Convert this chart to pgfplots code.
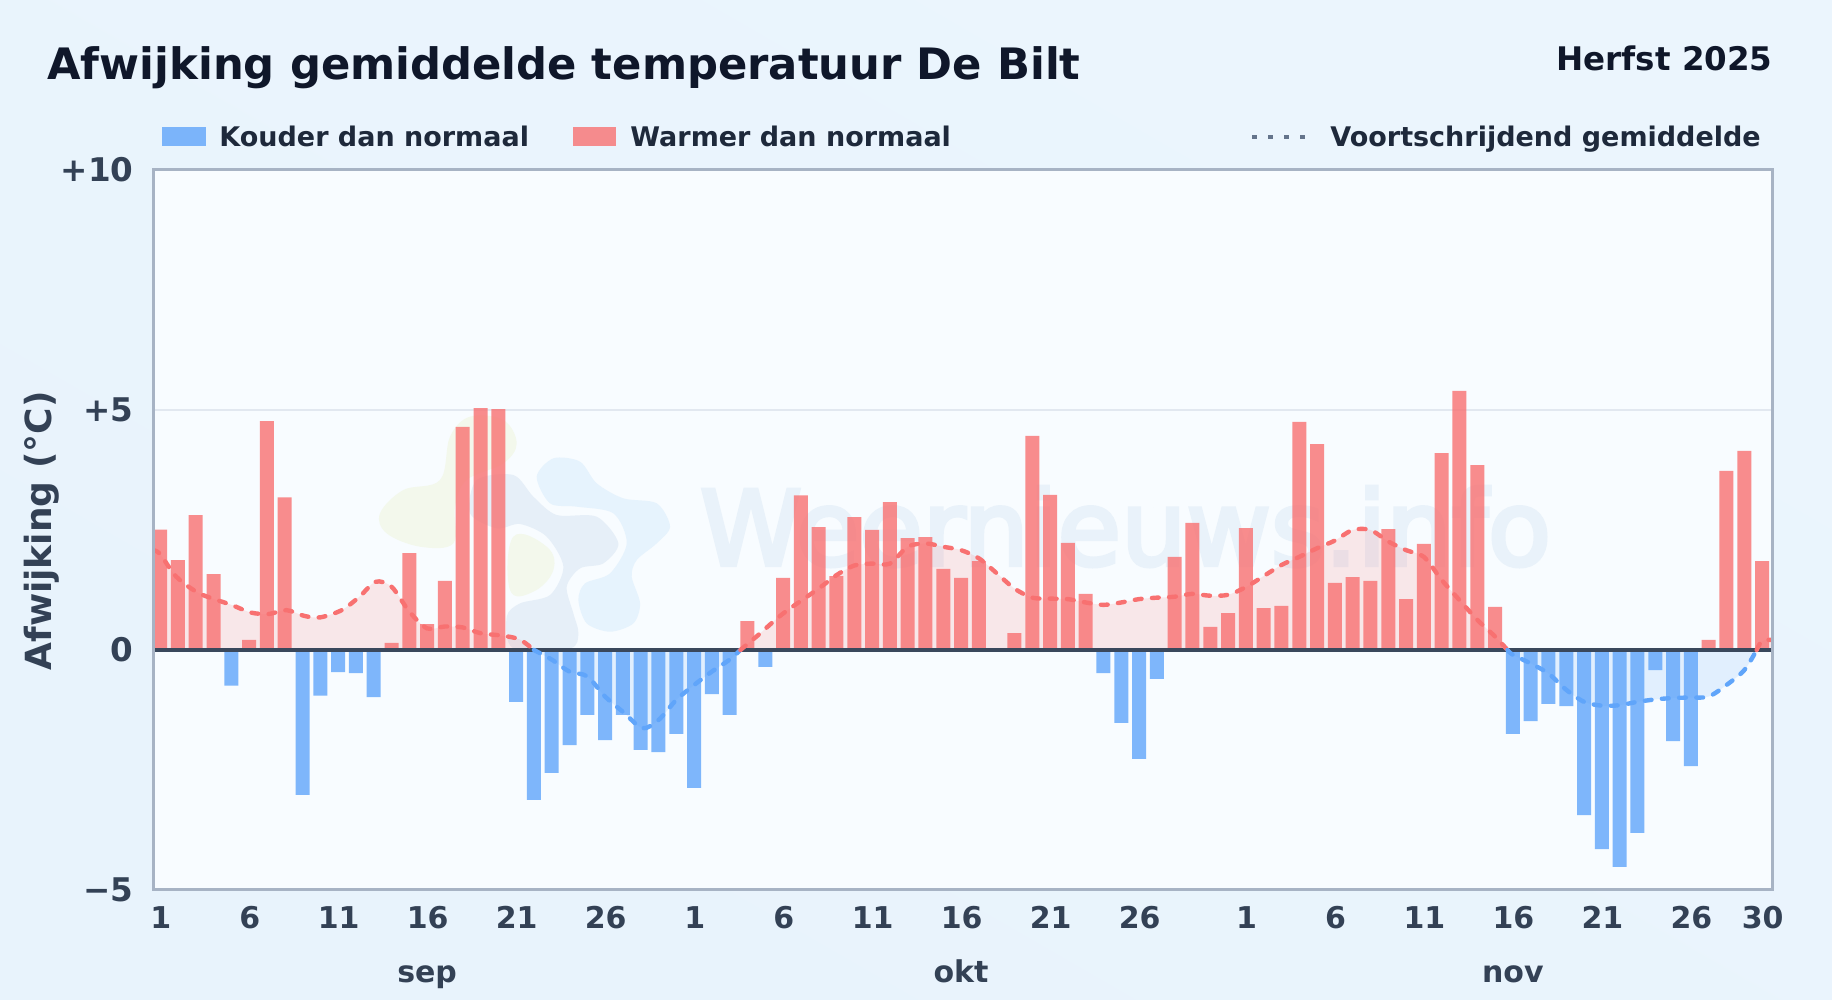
\documentclass[border=0pt]{standalone}
\usepackage{fontspec}
\setmainfont{DejaVu Sans}
\newfontfamily\wmfont[FakeBold=4]{DejaVu Sans}
\usepackage{pgfplots}
\usepackage{pgfplotstable}
\pgfplotsset{compat=1.18}

\definecolor{pageA}{HTML}{EBF5FD}
\definecolor{pageB}{HTML}{E8F3FC}
\definecolor{plotbg}{HTML}{F8FCFF}
\definecolor{warm}{HTML}{F87171}
\definecolor{cold}{HTML}{60A5FA}
\definecolor{ink}{HTML}{0F172A}
\definecolor{legendink}{HTML}{1E293B}
\definecolor{tickink}{HTML}{334155}
\definecolor{zeroline}{HTML}{3A485C}
\definecolor{frameline}{HTML}{97A6BA}
\definecolor{gridc}{HTML}{E2E8F0}
\definecolor{wmark}{HTML}{E9F2FA}
\definecolor{logogreen}{HTML}{F3F8EC}
\definecolor{logogrey}{HTML}{E6EFF8}
\definecolor{logoblue}{HTML}{E6F3FD}
\definecolor{dotc}{HTML}{64748B}

\newcommand{\fs}[1]{\fontsize{#1}{#1}\selectfont\bfseries}

% dagen 1 t/m 91 (1 sep - 30 nov)
\pgfplotstableread{
d v
1 2.51
2 1.87
3 2.81
4 1.58
6 0.21
7 4.77
8 3.18
14 0.15
15 2.02
16 0.54
17 1.44
18 4.65
19 5.04
20 5.02
34 0.60
36 1.50
37 3.22
38 2.56
39 1.54
40 2.77
41 2.50
42 3.08
43 2.33
44 2.35
45 1.69
46 1.50
47 1.85
49 0.35
50 4.46
51 3.23
52 2.23
53 1.17
58 1.94
59 2.65
60 0.48
61 0.77
62 2.54
63 0.87
64 0.92
65 4.75
66 4.29
67 1.40
68 1.52
69 1.44
70 2.52
71 1.06
72 2.21
73 4.10
74 5.40
75 3.85
76 0.90
88 0.21
89 3.73
90 4.15
91 1.85
}\warmbars

\pgfplotstableread{
d v
5 -0.74
9 -3.02
10 -0.95
11 -0.46
12 -0.48
13 -0.98
21 -1.08
22 -3.12
23 -2.56
24 -1.98
25 -1.35
26 -1.88
27 -1.35
28 -2.08
29 -2.13
30 -1.75
31 -2.87
32 -0.92
33 -1.35
35 -0.35
54 -0.48
55 -1.52
56 -2.27
57 -0.60
77 -1.75
78 -1.48
79 -1.12
80 -1.17
81 -3.44
82 -4.15
83 -4.52
84 -3.81
85 -0.42
86 -1.90
87 -2.42
}\coldbars

% voortschrijdend gemiddelde, per stuk boven/onder nul
\pgfplotstableread{
d v
0.6 2.08
1 2.00
1.9 1.53
3.2 1.18
5 0.94
6.1 0.78
7.1 0.75
8.1 0.83
9.1 0.71
10 0.68
11.2 0.83
12.2 1.11
13.1 1.42
14 1.32
15 0.80
16 0.45
17 0.49
18 0.47
19 0.35
20.2 0.30
21.2 0.22
22 0.00
}\avgA
\pgfplotstableread{
d v
22 0.00
23 -0.20
24 -0.45
25 -0.55
26 -0.97
27.1 -1.32
28.1 -1.63
29 -1.46
30 -1.04
31 -0.73
32 -0.45
33 -0.20
33.6 0.00
}\avgB
\pgfplotstableread{
d v
33.6 0.00
34.6 0.31
36 0.76
38 1.28
39 1.56
40 1.76
41 1.80
42 1.80
43 2.15
44 2.22
45 2.15
46 2.08
47 1.91
48 1.60
49 1.28
50 1.09
51 1.07
52 1.06
53 0.99
54 0.94
55 0.99
56 1.06
57 1.09
58 1.11
59 1.17
60 1.13
61 1.15
62 1.31
63 1.54
64 1.77
65 1.94
66 2.12
67 2.28
68 2.50
69 2.50
70 2.26
71 2.08
72 1.94
73 1.46
74 1.04
75 0.63
76 0.28
76.7 0.00
}\avgC
\pgfplotstableread{
d v
76.7 0.00
77 -0.10
78 -0.28
79 -0.49
80 -0.83
81 -1.08
82 -1.16
83 -1.15
84 -1.08
85 -1.03
86 -1.00
87 -0.99
88 -0.97
89 -0.73
90 -0.42
90.7 0.00
}\avgD
\pgfplotstableread{
d v
90.7 0.00
91 0.19
91.56 0.21
}\avgE

\pgfplotsset{avgline/.style={line width=2.2pt,smooth,tension=0.5,line cap=round,dash pattern=on 3.4pt off 5.2pt}}

\begin{document}
\begin{tikzpicture}
\path[use as bounding box] (0,0) rectangle (916pt,500pt);
\shade[left color=pageA,right color=pageB,shading angle=-30] (0,0) rectangle (916pt,500pt);

% alles in beeldpunten, oorsprong linksboven
\begin{scope}[x=0.5pt,y=-0.5pt,shift={(0pt,500pt)}]
\fill[plotbg] (153,170) rectangle (1772,890);
% logo, zoom-coordinaten: x=370+zx/3, y=400+zy/3
\begin{scope}[shift={(370,400)},x=0.1667pt,y=-0.1667pt]
\fill[logogreen] plot[smooth cycle,tension=0.6] coordinates {
 (240,110)(300,50)(400,60)(440,130)(400,190)(290,240)(255,320)(250,430)(150,440)(50,400)(30,340)(100,270)(210,240)};
\fill[logogreen] plot[smooth cycle,tension=0.7] coordinates {
 (430,410)(530,440)(550,510)(490,575)(420,570)};
\fill[logogrey] plot[smooth cycle,tension=0.5] coordinates {
 (300,340)(320,240)(430,225)(490,290)(560,345)(680,350)(745,430)(700,490)(630,505)(590,560)(610,640)(625,700)(600,745)(430,745)(410,650)(450,610)(540,585)(580,500)(530,410)(450,372)(380,385)};
\fill[logoblue] plot[smooth cycle,tension=0.5] coordinates {
 (500,230)(550,175)(630,185)(680,250)(760,295)(860,310)(900,380)(860,430)(800,480)(785,530)(810,610)(790,670)(720,695)(650,670)(625,600)(645,550)(720,520)(770,430)(730,340)(620,320)(540,310)};
\end{scope}
\node[anchor=base west,inner sep=0pt,text=wmark,font=\wmfont\fontsize{51.6}{51.6}\selectfont] at (699.5,565) {Weernieuws.info};

% legenda en rechterkop
\fill[cold,fill opacity=0.8] (162,127) rectangle (206,146);
\node[anchor=base west,inner sep=0pt,text=legendink,font=\fs{13.5}] at (219,147) {Kouder dan normaal};
\fill[warm,fill opacity=0.8] (573,127) rectangle (616,146);
\node[anchor=base west,inner sep=0pt,text=legendink,font=\fs{13.5}] at (630,147) {Warmer dan normaal};
\draw[dotc,line width=2pt,dash pattern=on 2.5pt off 5.5pt] (1252,137) -- (1312,137);
\node[anchor=base west,inner sep=0pt,text=legendink,font=\fs{13.5}] at (1330,147) {Voortschrijdend gemiddelde};
\node[anchor=base east,inner sep=0pt,text=ink,font=\fs{16.25}] at (1773,71) {Herfst 2025};
\end{scope}

\begin{axis}[
  at={(76.5pt,55pt)},
  anchor=south west,
  scale only axis,
  width=809.5pt,
  height=360pt,
  xmin=0.6, xmax=91.56,
  ymin=-5, ymax=10,
  clip mode=individual,
  axis line style={draw=none},
  major tick length=0pt,
  ytick={-5,0,5,10},
  yticklabels={−5,0,+5,+10},
  xtick={1,6,11,16,21,26,31,36,41,46,51,56,62,67,72,77,82,87,91},
  xticklabels={1,6,11,16,21,26,1,6,11,16,21,26,1,6,11,16,21,26,30},
  ymajorgrids=true,
  grid style={draw=gridc,line width=0.65pt},
  yticklabel style={font=\fs{16.3},text=tickink,anchor=base east,inner sep=0pt,xshift=-9.5pt,yshift=-5.9pt},
  xticklabel style={font=\fs{15},text=tickink,anchor=base,inner sep=0pt,xshift=0.3pt,yshift=-19.5pt},
  title={Afwijking gemiddelde temperatuur De Bilt},
  title style={font=\fs{21.65},text=ink,at={(rel axis cs:0,1)},anchor=base west,inner sep=0pt,xshift=-53pt,yshift=39pt},
  ylabel={Afwijking (°C)},
  ylabel style={font=\fs{18},text=tickink,at={(rel axis cs:0,0.5)},anchor=center,inner sep=0pt,xshift=-0.5pt,yshift=55.5pt},
]
% vlakken onder de lijn
\addplot[draw=none,fill=warm,fill opacity=0.15,smooth,tension=0.5] table[x=d,y=v] {\avgA} \closedcycle;
\addplot[draw=none,fill=cold,fill opacity=0.15,smooth,tension=0.5] table[x=d,y=v] {\avgB} \closedcycle;
\addplot[draw=none,fill=warm,fill opacity=0.15,smooth,tension=0.5] table[x=d,y=v] {\avgC} \closedcycle;
\addplot[draw=none,fill=cold,fill opacity=0.15,smooth,tension=0.5] table[x=d,y=v] {\avgD} \closedcycle;
\addplot[draw=none,fill=warm,fill opacity=0.15,smooth,tension=0.5] table[x=d,y=v] {\avgE} \closedcycle;

% staven
\addplot[ybar,bar width=7pt,bar shift=0pt,draw=none,fill=warm,fill opacity=0.8] table[x=d,y=v] {\warmbars};
\addplot[ybar,bar width=7pt,bar shift=0pt,draw=none,fill=cold,fill opacity=0.8] table[x=d,y=v] {\coldbars};

% nullijn
\addplot[zeroline,line width=1.9pt] coordinates {(0.6,0) (91.56,0)};

% gemiddelde
\addplot[warm,avgline] table[x=d,y=v] {\avgA};
\addplot[cold,avgline] table[x=d,y=v] {\avgB};
\addplot[warm,avgline] table[x=d,y=v] {\avgC};
\addplot[cold,avgline] table[x=d,y=v] {\avgD};
\addplot[warm,avgline] table[x=d,y=v] {\avgE};

% maanden
\node[font=\fs{15},text=tickink,anchor=base,inner sep=0pt,yshift=-46.5pt] at (axis cs:16,-5) {sep};
\node[font=\fs{15},text=tickink,anchor=base,inner sep=0pt,yshift=-46.5pt] at (axis cs:46,-5) {okt};
\node[font=\fs{15},text=tickink,anchor=base,inner sep=0pt,yshift=-46.5pt] at (axis cs:77,-5) {nov};
\end{axis}
% kader
\draw[frameline!85!white,line width=1.5pt] (76.5pt,55pt) rectangle (886pt,415pt);
\end{tikzpicture}
\end{document}
